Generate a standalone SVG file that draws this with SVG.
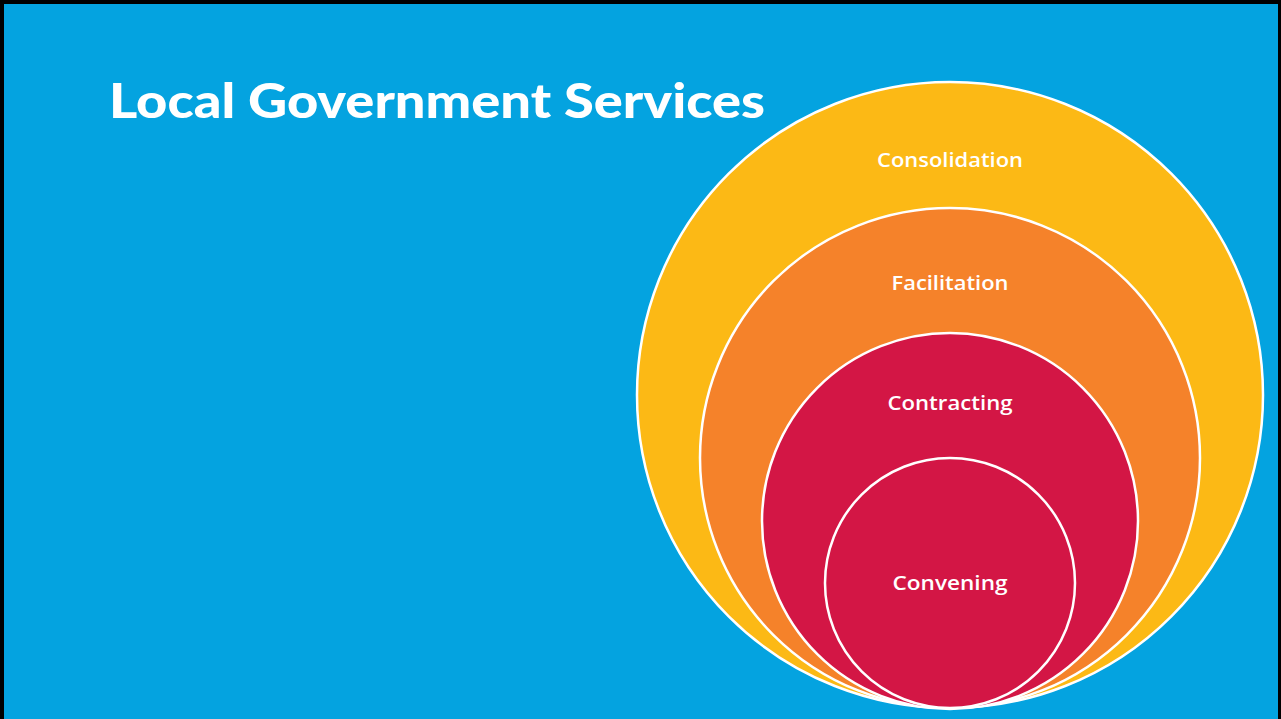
<svg xmlns="http://www.w3.org/2000/svg" width="1281" height="719" viewBox="0 0 1281 719">
  <style>
    .ring { stroke: #ffffff; stroke-width: 2.5; }
    .lbl { font-family: "Open Sans", "Liberation Sans", sans-serif; font-size: 20px; font-weight: 600; fill: #ffffff; text-anchor: middle; }
    .title { font-family: "Lato", "Open Sans", "Liberation Sans", sans-serif; font-size: 47px; font-weight: 900; fill: #ffffff; }
  </style>
  <rect x="0" y="0" width="1281" height="719" fill="#000000"/>
  <rect x="4" y="4" width="1274" height="715" fill="#04A3E0"/>
  <text class="title" x="109" y="118" textLength="656" lengthAdjust="spacingAndGlyphs">Local Government Services</text>
  <g id="consolidation">
    <circle class="ring" cx="950" cy="395" r="313" fill="#FCB915"/>
    <text class="lbl" x="950" y="167" textLength="146" lengthAdjust="spacingAndGlyphs">Consolidation</text>
  </g>
  <g id="facilitation">
    <circle class="ring" cx="950" cy="458" r="250" fill="#F5822A"/>
    <text class="lbl" x="950" y="290" textLength="117" lengthAdjust="spacingAndGlyphs">Facilitation</text>
  </g>
  <g id="contracting">
    <circle class="ring" cx="950" cy="521" r="188" fill="#D31645"/>
    <text class="lbl" x="950" y="410" textLength="125" lengthAdjust="spacingAndGlyphs">Contracting</text>
  </g>
  <g id="convening">
    <circle class="ring" cx="950" cy="583" r="125" fill="#D31645"/>
    <text class="lbl" x="950" y="590" textLength="115" lengthAdjust="spacingAndGlyphs">Convening</text>
  </g>
  <g id="connectors"></g>
</svg>
